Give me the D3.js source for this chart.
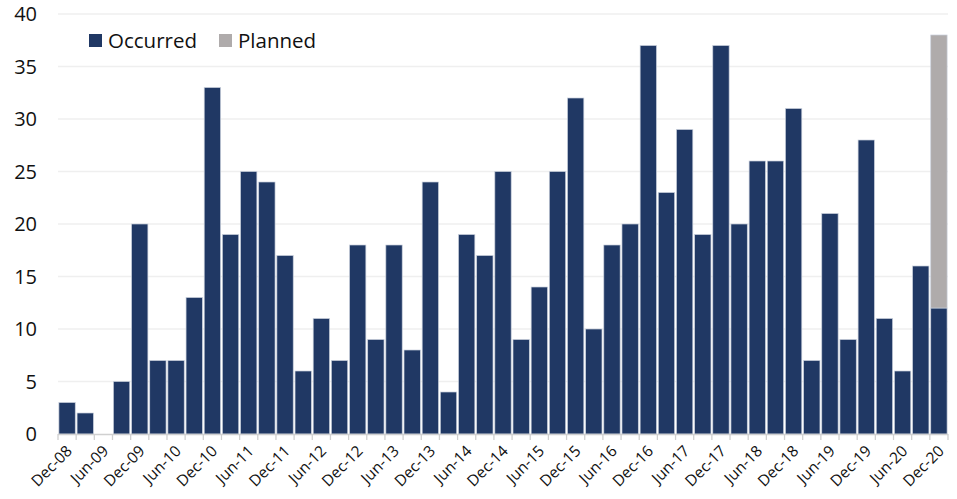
<!DOCTYPE html>
<html><head><meta charset="utf-8">
<script src="https://cdn.jsdelivr.net/npm/d3@7"></script>
<style>body{margin:0;background:#fff}svg{display:block}text{font-family:"Open Sans",Carlito,Calibri,sans-serif}</style>
</head><body><svg id="c" width="957" height="499"></svg>
<script>
const quarters = ["Dec-08","Mar-09","Jun-09","Sep-09","Dec-09","Mar-10","Jun-10","Sep-10","Dec-10","Mar-11","Jun-11","Sep-11","Dec-11","Mar-12","Jun-12","Sep-12","Dec-12","Mar-13","Jun-13","Sep-13","Dec-13","Mar-14","Jun-14","Sep-14","Dec-14","Mar-15","Jun-15","Sep-15","Dec-15","Mar-16","Jun-16","Sep-16","Dec-16","Mar-17","Jun-17","Sep-17","Dec-17","Mar-18","Jun-18","Sep-18","Dec-18","Mar-19","Jun-19","Sep-19","Dec-19","Mar-20","Jun-20","Sep-20","Dec-20"];
const occurred = [3,2,0,5,20,7,7,13,33,19,25,24,17,6,11,7,18,9,18,8,24,4,19,17,25,9,14,25,32,10,18,20,37,23,29,19,37,20,26,26,31,7,21,9,28,11,6,16,12];
const planned = [0,0,0,0,0,0,0,0,0,0,0,0,0,0,0,0,0,0,0,0,0,0,0,0,0,0,0,0,0,0,0,0,0,0,0,0,0,0,0,0,0,0,0,0,0,0,0,0,26];
const yTicks = [0,5,10,15,20,25,30,35,40];
const seriesNames = ["Occurred","Planned"];
const colors = ["#203864","#AFABAB"];

const svg = d3.select("#c");
const m = {l:58, r:948, t:14, b:434};
const x = d3.scaleBand().domain(quarters).range([m.l, m.r]).paddingInner(0.1).paddingOuter(0.05);
const y = d3.scaleLinear().domain([0,40]).range([m.b, m.t]);

// gridlines
svg.append("g").selectAll("line").data(yTicks.filter(d=>d>0)).join("line")
  .attr("x1", m.l).attr("x2", m.r).attr("y1", d=>y(d)).attr("y2", d=>y(d))
  .attr("stroke","#efefef").attr("stroke-width",1.3);

// y labels
svg.append("g").selectAll("text").data(yTicks).join("text")
  .attr("x", 37).attr("y", d=>y(d)).attr("dy","0.35em").attr("text-anchor","end")
  .attr("font-size",20).attr("fill","#111").text(d=>d);

const data = quarters.map((q,i)=>({q, o:occurred[i], p:planned[i]}));
const stack = d3.stack().keys(["o","p"])(data);
svg.append("g").selectAll("g").data(stack).join("g").attr("fill",(d,i)=>colors[i])
  .selectAll("rect").data(d=>d.filter(e=>e[1]-e[0]>0)).join("rect")
  .attr("x", d=>x(d.data.q)).attr("width", x.bandwidth())
  .attr("y", d=>y(d[1])).attr("height", d=>y(d[0])-y(d[1]))
  .attr("stroke", "#c9d0dc").attr("stroke-width",0.7);

// baseline and ticks
svg.append("line").attr("x1",m.l).attr("x2",m.r).attr("y1",m.b+0.5).attr("y2",m.b+0.5).attr("stroke","#d0d0d0").attr("stroke-width",1.5);
const bounds = d3.range(quarters.length+1).map(k=>m.l + (m.r-m.l)*k/quarters.length);
svg.append("g").selectAll("line").data(bounds).join("line")
  .attr("x1",d=>d).attr("x2",d=>d).attr("y1",m.b).attr("y2",m.b+6).attr("stroke","#d0d0d0").attr("stroke-width",1.3);

// x labels
svg.append("g").selectAll("text").data(quarters.filter((q,i)=>i%2===0)).join("text")
  .attr("transform", d=>`translate(${x(d)+x.bandwidth()/2+6},${m.b+18}) rotate(-45)`)
  .attr("text-anchor","end").attr("font-size",15.5).attr("fill","#111").text(d=>d);

// legend
const lg = svg.append("g");
const lx = [89, 219];
seriesNames.forEach((n,i)=>{
  lg.append("rect").attr("x",lx[i]).attr("y",34).attr("width",13).attr("height",13).attr("fill",colors[i]);
  lg.append("text").attr("x",lx[i]+19).attr("y",41).attr("dy","0.35em").attr("font-size",20.5).attr("fill","#111").text(n);
});
</script></body></html>
